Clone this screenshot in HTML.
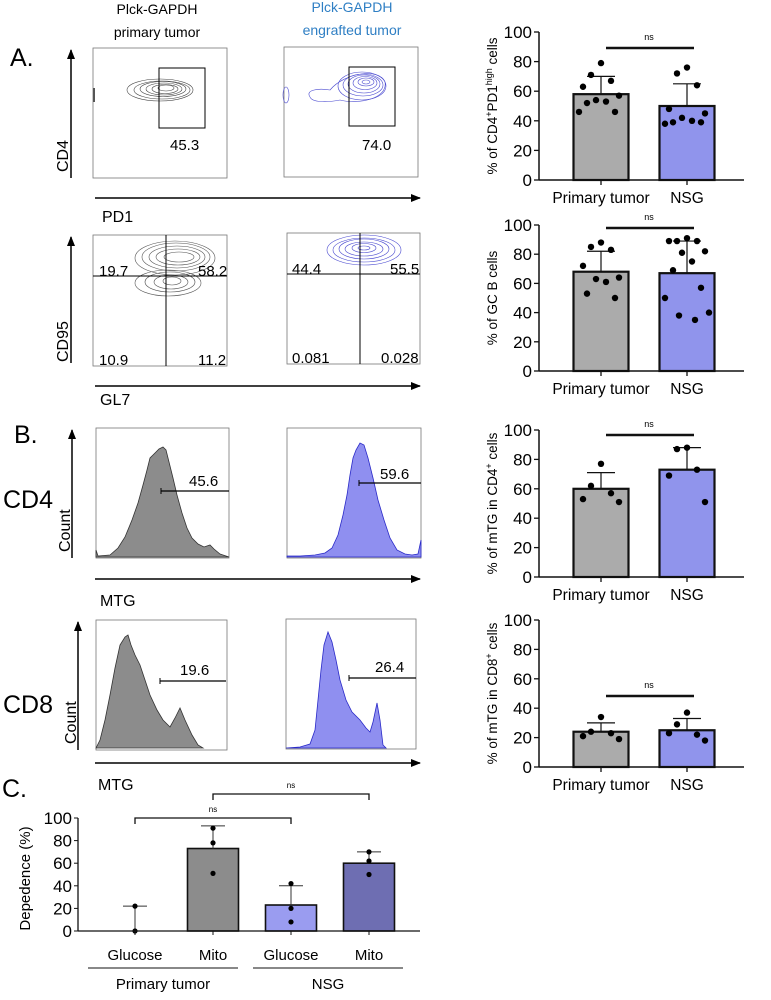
<!DOCTYPE html>
<html><head><meta charset="utf-8">
<style>
html,body{margin:0;padding:0;background:#fff;}
svg{display:block;font-family:"Liberation Sans",Arial,sans-serif;}
.cal{font-family:"Liberation Sans",Arial,sans-serif;}
</style></head>
<body>
<svg id="fig" width="771" height="1000" viewBox="0 0 771 1000" xmlns="http://www.w3.org/2000/svg">
<defs>
<marker id="ah" markerWidth="10" markerHeight="8" refX="9" refY="4" orient="auto" markerUnits="userSpaceOnUse"><path d="M0,0 L10,4 L0,8 Z" fill="#000"/></marker>
</defs>

<!-- Panel A -->
<g class="cal">
<text x="10" y="66" font-size="25">A.</text>
<text x="157" y="14" font-size="14" text-anchor="middle">Plck-GAPDH</text>
<text x="157" y="37" font-size="14" text-anchor="middle">primary tumor</text>
<text x="352" y="12" font-size="14" text-anchor="middle" fill="#2f7fc4">Plck-GAPDH</text>
<text x="352" y="35" font-size="14" text-anchor="middle" fill="#2f7fc4">engrafted  tumor</text>

<rect x="93" y="48" width="134" height="130" fill="none" stroke="#777" stroke-width="0.8"/>
<g fill="none" stroke="#444" stroke-width="0.6">
<ellipse cx="160" cy="90" rx="33" ry="11"/><ellipse cx="162" cy="90" rx="28" ry="9"/><ellipse cx="163" cy="89" rx="23" ry="7.5"/><ellipse cx="164" cy="89" rx="18" ry="6"/><ellipse cx="165" cy="89" rx="13" ry="4.5"/><ellipse cx="166" cy="88" rx="8" ry="3"/>
</g>
<rect x="93" y="88" width="2" height="14" fill="#555"/>
<rect x="159" y="68" width="46" height="60" fill="none" stroke="#000" stroke-width="1"/>
<text x="170" y="150" font-size="15">45.3</text>

<rect x="284" y="47" width="134" height="130" fill="none" stroke="#777" stroke-width="0.8"/>
<g fill="none" stroke="#4a4ad0" stroke-width="0.6">
<path d="M310,97 C305,90 318,88 330,90 C345,72 380,68 385,82 C388,98 360,105 340,100 C325,103 312,102 310,97 Z"/>
<ellipse cx="362" cy="86" rx="24" ry="14"/><ellipse cx="363" cy="85" rx="20" ry="11"/><ellipse cx="364" cy="84" rx="16" ry="9"/><ellipse cx="365" cy="83" rx="12" ry="6.5"/><ellipse cx="366" cy="82" rx="8" ry="4"/><ellipse cx="366" cy="82" rx="4" ry="2"/>
<ellipse cx="286" cy="95" rx="3" ry="8"/>
</g>
<rect x="349" y="67" width="46" height="59" fill="none" stroke="#000" stroke-width="1"/>
<text x="362" y="150" font-size="15">74.0</text>

<line x1="71" y1="178" x2="71" y2="50" stroke="#000" stroke-width="1.5" marker-end="url(#ah)"/>
<text transform="translate(68,172) rotate(-90)" font-size="16">CD4</text>
<line x1="95" y1="198" x2="420" y2="198" stroke="#000" stroke-width="1.5" marker-end="url(#ah)"/>
<text x="102" y="222" font-size="16">PD1</text>

<rect x="93" y="235" width="134" height="131" fill="none" stroke="#777" stroke-width="0.8"/>
<g fill="none" stroke="#555" stroke-width="0.6">
<ellipse cx="175" cy="258" rx="40" ry="17"/><ellipse cx="176" cy="257" rx="34" ry="14"/><ellipse cx="177" cy="257" rx="28" ry="11"/><ellipse cx="178" cy="257" rx="22" ry="8"/><ellipse cx="179" cy="257" rx="15" ry="5"/>
<ellipse cx="168" cy="283" rx="33" ry="13"/><ellipse cx="170" cy="282" rx="25" ry="10"/><ellipse cx="171" cy="282" rx="17" ry="7"/><ellipse cx="172" cy="281" rx="9" ry="4"/>
</g>
<line x1="93" y1="276" x2="227" y2="276" stroke="#000"/><line x1="166" y1="235" x2="166" y2="366" stroke="#000"/>
<text x="99" y="276" font-size="15">19.7</text>
<text x="198" y="276" font-size="15">58.2</text>
<text x="99" y="365" font-size="15">10.9</text>
<text x="198" y="365" font-size="15">11.2</text>

<rect x="287" y="233" width="133" height="131" fill="none" stroke="#777" stroke-width="0.8"/>
<g fill="none" stroke="#4a4ad0" stroke-width="0.6">
<ellipse cx="364" cy="250" rx="37" ry="15"/><ellipse cx="364" cy="250" rx="31" ry="12"/><ellipse cx="364" cy="249" rx="25" ry="10"/><ellipse cx="364" cy="249" rx="19" ry="7"/><ellipse cx="364" cy="248" rx="12" ry="4.5"/><ellipse cx="364" cy="248" rx="6" ry="2"/>
</g>
<line x1="287" y1="274" x2="420" y2="274" stroke="#000"/><line x1="360" y1="233" x2="360" y2="364" stroke="#000"/>
<text x="292" y="274" font-size="15">44.4</text>
<text x="390" y="274" font-size="15">55.5</text>
<text x="292" y="363" font-size="15">0.081</text>
<text x="381" y="363" font-size="15">0.028</text>

<line x1="71" y1="363" x2="71" y2="237" stroke="#000" stroke-width="1.5" marker-end="url(#ah)"/>
<text transform="translate(68,362) rotate(-90)" font-size="16">CD95</text>
<line x1="95" y1="386" x2="420" y2="386" stroke="#000" stroke-width="1.5" marker-end="url(#ah)"/>
<text x="100" y="405" font-size="16">GL7</text>
</g>

<!-- Panel B -->
<g class="cal">
<text x="14" y="443" font-size="25">B.</text>
<text x="3" y="508" font-size="25">CD4</text>
<text x="3" y="713" font-size="25">CD8</text>

<rect x="96" y="428" width="133" height="130" fill="none" stroke="#777" stroke-width="0.8"/>
<path d="M96,550 L98,556 L110,555 L118,548 L125,537 L132,520 L138,503 L143,485 L147,470 L150,458 L153,455 L156,452 L159,449 L163,447 L166,450 L169,462 L173,478 L177,495 L182,513 L187,528 L192,538 L198,544 L204,547 L210,545 L214,549 L220,554 L229,557 L96,557 Z" fill="#8c8c8c" stroke="#333" stroke-width="0.8"/>
<line x1="161" y1="491" x2="229" y2="491" stroke="#000" stroke-width="1.2"/><line x1="161" y1="488" x2="161" y2="494" stroke="#000"/>
<text x="189" y="486" font-size="15">45.6</text>

<rect x="287" y="428" width="134" height="130" fill="none" stroke="#777" stroke-width="0.8"/>
<path d="M287,556 L300,556 L315,555 L325,553 L332,548 L338,535 L343,515 L347,495 L350,475 L353,458 L356,450 L360,443 L364,445 L368,458 L373,478 L378,500 L384,520 L390,538 L397,550 L405,554 L412,555 L418,554 L421,540 L421,557 L287,557 Z" fill="#8f8ff0" stroke="#2a2ac8" stroke-width="0.8"/>
<line x1="359" y1="483" x2="421" y2="483" stroke="#000" stroke-width="1.2"/><line x1="359" y1="480" x2="359" y2="486" stroke="#000"/>
<text x="380" y="479" font-size="15">59.6</text>

<line x1="72" y1="558" x2="72" y2="430" stroke="#000" stroke-width="1.5" marker-end="url(#ah)"/>
<text transform="translate(70,552) rotate(-90)" font-size="16">Count</text>
<line x1="95" y1="579" x2="420" y2="579" stroke="#000" stroke-width="1.5" marker-end="url(#ah)"/>
<text x="100" y="606" font-size="16">MTG</text>

<rect x="96" y="620" width="131" height="130" fill="none" stroke="#777" stroke-width="0.8"/>
<path d="M96,748 L100,740 L105,720 L110,695 L115,668 L120,645 L125,637 L128,635 L131,645 L135,655 L140,665 L145,680 L150,695 L157,710 L163,720 L170,727 L175,718 L180,708 L185,720 L192,735 L198,745 L203,748 Z" fill="#8c8c8c" stroke="#333" stroke-width="0.8"/>
<line x1="160" y1="681" x2="226" y2="681" stroke="#000" stroke-width="1.2"/><line x1="160" y1="678" x2="160" y2="684" stroke="#000"/>
<text x="180" y="675" font-size="15">19.6</text>

<rect x="286" y="619" width="130" height="130" fill="none" stroke="#777" stroke-width="0.8"/>
<path d="M286,748 L300,747 L310,744 L315,730 L318,700 L321,670 L324,645 L328,632 L332,642 L336,660 L340,680 L346,700 L352,712 L360,720 L366,728 L370,732 L373,722 L377,703 L380,720 L383,745 L386,748 Z" fill="#8f8ff0" stroke="#2a2ac8" stroke-width="0.8"/>
<line x1="349" y1="678" x2="416" y2="678" stroke="#000" stroke-width="1.2"/><line x1="349" y1="675" x2="349" y2="681" stroke="#000"/>
<text x="375" y="672" font-size="15">26.4</text>

<line x1="78" y1="750" x2="78" y2="622" stroke="#000" stroke-width="1.5" marker-end="url(#ah)"/>
<text transform="translate(76,744) rotate(-90)" font-size="16">Count</text>
<line x1="95" y1="763" x2="420" y2="763" stroke="#000" stroke-width="1.5" marker-end="url(#ah)"/>
<text x="98" y="790" font-size="16">MTG</text>
</g>
<text x="2" y="797" font-size="25" class="cal">C.</text>

<g id="charts"></g>
</svg>

<script>
// Right-side bar chart data
const rcCategories = ["Primary tumor", "NSG"];
const rc1Means = [58, 50];
const rc1Err = [70, 65];
const rc1Dots0 = [79, 71, 67, 63, 57, 54, 53, 52, 46, 46];
const rc1Dots1 = [76, 72, 64, 48, 45, 42, 40, 39, 39, 38];
const rc2Means = [68, 67];
const rc2Err = [82, 89];
const rc2Dots0 = [88, 85, 83, 72, 64, 63, 61, 53, 50];
const rc2Dots1 = [91, 89, 89, 89, 82, 81, 75, 69, 57, 50, 40, 38, 35];
const rc3Means = [60, 73];
const rc3Err = [71, 88];
const rc3Dots0 = [77, 62, 57, 53, 51];
const rc3Dots1 = [88, 87, 73, 69, 51];
const rc4Means = [24, 25];
const rc4Err = [30, 33];
const rc4Dots0 = [34, 24, 23, 21, 19];
const rc4Dots1 = [37, 29, 22, 23, 18];
const yTicks = [0, 20, 40, 60, 80, 100];

// Panel C data
const cCategories = ["Glucose", "Mito", "Glucose", "Mito"];
const cGroups = ["Primary tumor", "NSG"];
const cMeans = [0, 73, 23, 60];
const cErr = [22, 93, 40, 70];
const cDots = [[0, 22], [91, 78, 51], [42, 20, 8], [70, 62, 50]];

const NS = "http://www.w3.org/2000/svg";
const root = document.getElementById("charts");
function mk(tag, attrs, parent) {
  const e = document.createElementNS(NS, tag);
  for (const k in attrs) e.setAttribute(k, attrs[k]);
  (parent || root).appendChild(e);
  return e;
}
const FILLS = ["#ababab", "#9094ec"];

function barChart(o) {
  const g = mk("g", {});
  
  
  const ax = 539, xEnd = 744;
  const y = v => o.y0 - (o.y0 - o.y100) * v / 100;
  const cx = [601, 687];
  const bw = 55;
  o.means.forEach((m, i) => {
    const b = mk("rect", {x: cx[i] - bw / 2, y: y(m), width: bw, height: y(0) - y(m), fill: FILLS[i], stroke: "#111", "stroke-width": 2.2}, g);
    
    
    const e = mk("path", {d: `M${cx[i]},${y(m)} V${y(o.err[i])} M${cx[i] - 14},${y(o.err[i])} H${cx[i] + 14}`, stroke: "#111", "stroke-width": 1.2, fill: "none"}, g);
    
    
  });
  [o.d0, o.d1].forEach((ds, i) => {
    const offs = [0, -10, 10, -18, 18, -5, 5, -14, 14, -22, 22, -8, 8];
    ds.forEach((v, j) => {
      const d = mk("circle", {cx: cx[i] + offs[j % offs.length], cy: y(v), r: 3.2, fill: "#000"}, g);
      
      
    });
  });
  mk("line", {x1: ax, y1: o.y100, x2: ax, y2: y(0), stroke: "#111", "stroke-width": 1.5}, g);
  mk("line", {x1: ax, y1: y(0), x2: xEnd, y2: y(0), stroke: "#111", "stroke-width": 1.5}, g);
  yTicks.forEach(t => {
    mk("line", {x1: ax - 5, y1: y(t), x2: ax, y2: y(t), stroke: "#111", "stroke-width": 1.3}, g);
    const tx = mk("text", {x: ax - 7, y: y(t) + 6, "font-size": 17, "text-anchor": "end"}, g);
    tx.textContent = t;
    
    
  });
  rcCategories.forEach((c, i) => {
    mk("line", {x1: cx[i], y1: y(0), x2: cx[i], y2: y(0) + 5, stroke: "#111", "stroke-width": 1.3}, g);
    const tx = mk("text", {x: cx[i], y: y(0) + 23, "font-size": 15.5, "text-anchor": "middle"}, g);
    tx.textContent = c;
    
    
  });
  mk("line", {x1: 606, y1: o.nsY, x2: 694, y2: o.nsY, stroke: "#111", "stroke-width": 2.4}, g);
  const ns = mk("text", {x: 649, y: o.nsY - 8, "font-size": 9, "text-anchor": "middle"}, g);
  ns.textContent = "ns";
  
  
  const t = mk("text", {transform: `translate(${o.tx},${(o.y0 + o.y100) / 2}) rotate(-90)`, "font-size": 13.5, "text-anchor": "middle"}, g);
  t.innerHTML = o.title;
  
  
}

barChart({name: "tfh-bar-chart", y0: 180, y100: 32, means: rc1Means, err: rc1Err, d0: rc1Dots0, d1: rc1Dots1, nsY: 48, tx: 497,
  title: '% of CD4<tspan baseline-shift="super" font-size="9">+</tspan>PD1<tspan baseline-shift="super" font-size="9">high</tspan> cells'});
barChart({name: "gcb-bar-chart", y0: 371, y100: 225, means: rc2Means, err: rc2Err, d0: rc2Dots0, d1: rc2Dots1, nsY: 228, tx: 497,
  title: '% of GC B cells'});
barChart({name: "mtg-cd4-bar-chart", y0: 577, y100: 430, means: rc3Means, err: rc3Err, d0: rc3Dots0, d1: rc3Dots1, nsY: 435, tx: 497,
  title: '% of mTG in CD4<tspan baseline-shift="super" font-size="9">+</tspan> cells'});
barChart({name: "mtg-cd8-bar-chart", y0: 767, y100: 620, means: rc4Means, err: rc4Err, d0: rc4Dots0, d1: rc4Dots1, nsY: 696, tx: 497,
  title: '% of mTG in CD8<tspan baseline-shift="super" font-size="9">+</tspan> cells'});

// Panel C chart
(function () {
  const g = mk("g", {});
  
  
  const ax = 78, xEnd = 420, y0 = 931, y100 = 818;
  const y = v => y0 - (y0 - y100) * v / 100;
  const cx = [135, 213, 291, 369];
  const fills = ["#ffffff", "#8c8c8c", "#9a9cf0", "#6e6eb2"];
  const bw = 51;
  cMeans.forEach((m, i) => {
    if (m > 0) {
      const b = mk("rect", {x: cx[i] - bw / 2, y: y(m), width: bw, height: y(0) - y(m), fill: fills[i], stroke: "#111", "stroke-width": 1.6}, g);
      
      
    }
    const e = mk("path", {d: `M${cx[i]},${y(m)} V${y(cErr[i])} M${cx[i] - 12},${y(cErr[i])} H${cx[i] + 12}`, stroke: "#333", "stroke-width": 1, fill: "none"}, g);
    
    
    cDots[i].forEach(v => {
      const d = mk("circle", {cx: cx[i], cy: y(v), r: 2.6, fill: "#000"}, g);
      
      
    });
    mk("line", {x1: cx[i], y1: y0, x2: cx[i], y2: y0 + 4, stroke: "#111"}, g);
    const tx = mk("text", {x: cx[i], y: 960, "font-size": 15, "text-anchor": "middle"}, g);
    tx.textContent = cCategories[i];
    
    
  });
  mk("line", {x1: ax, y1: y100, x2: ax, y2: y0, stroke: "#111", "stroke-width": 1.3}, g);
  mk("line", {x1: ax, y1: y0, x2: xEnd, y2: y0, stroke: "#111", "stroke-width": 1.3}, g);
  yTicks.forEach(t => {
    mk("line", {x1: ax - 4, y1: y(t), x2: ax, y2: y(t), stroke: "#111"}, g);
    const tx = mk("text", {x: ax - 6, y: y(t) + 6, "font-size": 17, "text-anchor": "end"}, g);
    tx.textContent = t;
    
    
  });
  const yt = mk("text", {transform: `translate(30,${(y0 + y100) / 2 + 4}) rotate(-90)`, "font-size": 15, "text-anchor": "middle"}, g);
  yt.textContent = "Depedence (%)";
  
  
  [[88, 238], [253, 403]].forEach((r, i) => {
    mk("line", {x1: r[0], y1: 968, x2: r[1], y2: 968, stroke: "#111", "stroke-width": 1}, g);
    const tx = mk("text", {x: (r[0] + r[1]) / 2, y: 989, "font-size": 15, "text-anchor": "middle"}, g);
    tx.textContent = cGroups[i];
    
    
  });
  [[cx[0], cx[2], 818], [cx[1], cx[3], 794]].forEach(b => {
    mk("path", {d: `M${b[0]},${b[2] + 6} V${b[2]} H${b[1]} V${b[2] + 6}`, fill: "none", stroke: "#111", "stroke-width": 1.3}, g);
    const tx = mk("text", {x: (b[0] + b[1]) / 2, y: b[2] - 6, "font-size": 8, "text-anchor": "middle"}, g);
    tx.textContent = "ns";
    
    
  });
})();
</script>
</body></html>
